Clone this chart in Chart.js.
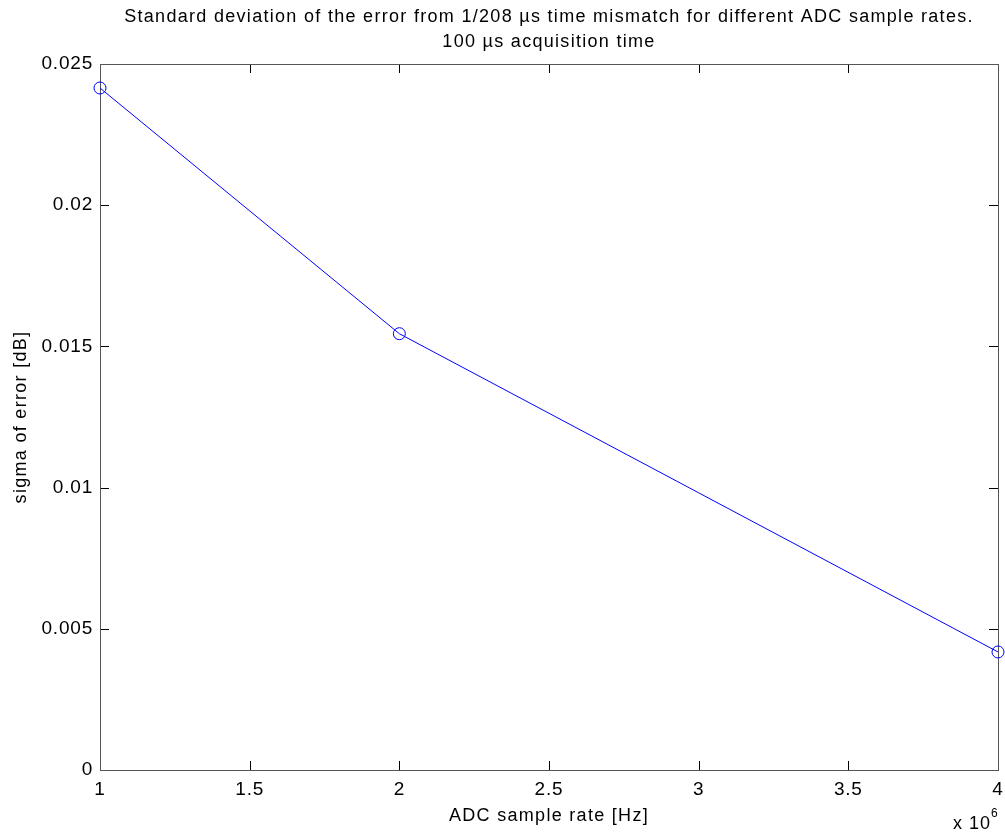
<!DOCTYPE html>
<html>
<head>
<meta charset="utf-8">
<script src="https://cdn.jsdelivr.net/npm/chart.js@4"></script>
<style>
  html, body { margin: 0; padding: 0; background: #fff; }
  canvas { display: block; }
</style>
</head>
<body>
<canvas id="sigmaChart" width="1005" height="834"></canvas>
<script>
// サンプルレートと誤差の標準偏差
const sampleRates = [1e6, 2e6, 4e6];
const sigmaError = [0.02415, 0.01545, 0.00418];

// 目盛り
const xTicks = [1, 1.5, 2, 2.5, 3, 3.5, 4]; // x 10^6
const yTicks = [0, 0.005, 0.01, 0.015, 0.02, 0.025];

const titleLines = [
  'Standard deviation of the error from 1/208 \u00b5s time mismatch for different ADC sample rates.',
  '100 \u00b5s acquisition time'
];
const xLabel = 'ADC sample rate [Hz]';
const yLabel = 'sigma of error [dB]';

const FONT = '"Liberation Sans", Arial, sans-serif';

// 枠線・内向きの目盛り・タイトル類を描くプラグイン
const frameTicks = {
  id: 'frameTicks',
  beforeDraw(chart) {
    // 目盛りラベル用の字間
    chart.ctx.letterSpacing = '0.8px';
  },
  beforeDatasetsDraw(chart) {
    const { ctx, chartArea: a, scales } = chart;
    const tl = 9;
    ctx.save();
    ctx.lineWidth = 1;
    ctx.strokeStyle = '#000';
    ctx.beginPath();
    xTicks.forEach(v => {
      const x = Math.round(scales.x.getPixelForValue(v * 1e6)) + 0.5;
      ctx.moveTo(x, a.bottom); ctx.lineTo(x, a.bottom - tl);
      ctx.moveTo(x, a.top); ctx.lineTo(x, a.top + tl);
    });
    yTicks.forEach(v => {
      const y = Math.round(scales.y.getPixelForValue(v)) + 0.5;
      ctx.moveTo(a.left, y); ctx.lineTo(a.left + tl, y);
      ctx.moveTo(a.right, y); ctx.lineTo(a.right - tl, y);
    });
    ctx.stroke();
    // 外枠
    ctx.strokeStyle = '#555';
    ctx.strokeRect(Math.round(a.left) + 0.5, Math.round(a.top) + 0.5,
      Math.round(a.right - a.left), Math.round(a.bottom - a.top));
    ctx.restore();
  },
  afterDraw(chart) {
    const { ctx, chartArea: a } = chart;
    const cx = (a.left + a.right) / 2;
    const cy = (a.top + a.bottom) / 2;
    ctx.save();
    ctx.fillStyle = '#000';
    ctx.letterSpacing = '1.3px';
    ctx.font = '18px ' + FONT;
    ctx.textAlign = 'center';
    ctx.textBaseline = 'alphabetic';
    ctx.fillText(titleLines[0], cx, 22);
    ctx.fillText(titleLines[1], cx, 47);
    // 軸ラベル
    ctx.fillText(xLabel, cx, 821);
    ctx.save();
    ctx.translate(26, cy);
    ctx.rotate(-Math.PI / 2);
    ctx.fillText(yLabel, 0, 0);
    ctx.restore();
    // 指数表示 x 10^6
    ctx.letterSpacing = '1px';
    ctx.textAlign = 'left';
    ctx.font = '18px ' + FONT;
    ctx.fillText('x 10', 953, 829);
    const w = ctx.measureText('x 10').width;
    ctx.font = '12px ' + FONT;
    ctx.fillText('6', 953 + w, 817);
    ctx.restore();
  }
};

const ctx = document.getElementById('sigmaChart').getContext('2d');
const sigmaChart = new Chart(ctx, {
  type: 'line',
  data: {
    datasets: [{
      data: sampleRates.map((r, i) => ({ x: r, y: sigmaError[i] })),
      borderColor: '#0000ff',
      borderWidth: 1,
      backgroundColor: 'rgba(0,0,0,0)',
      pointStyle: 'circle',
      pointRadius: 6,
      pointBorderWidth: 1,
      pointBorderColor: '#0000ff',
      pointBackgroundColor: 'rgba(0,0,0,0)',
      tension: 0,
      clip: false
    }]
  },
  options: {
    responsive: false,
    animation: false,
    devicePixelRatio: 1,
    layout: { padding: { top: 64, right: 7, left: 0, bottom: 0 } },
    plugins: {
      legend: { display: false },
      tooltip: { enabled: false }
    },
    scales: {
      x: {
        type: 'linear',
        min: sampleRates[0],
        max: sampleRates[sampleRates.length - 1],
        afterBuildTicks: s => { s.ticks = xTicks.map(v => ({ value: v * 1e6 })); },
        afterFit: s => { s.height = 64; s.paddingLeft = 0; s.paddingRight = 0; },
        grid: { display: false, drawTicks: false },
        border: { display: false },
        ticks: {
          padding: 8,
          color: '#000',
          font: { family: FONT, size: 19 },
          maxRotation: 0,
          autoSkip: false,
          callback: v => String(+(v / 1e6).toFixed(1))
        }
      },
      y: {
        min: 0,
        max: 0.025,
        afterBuildTicks: s => { s.ticks = yTicks.map(v => ({ value: v })); },
        afterFit: s => { s.width = 100; s.paddingTop = 0; s.paddingBottom = 0; },
        grid: { display: false, drawTicks: false },
        border: { display: false },
        ticks: {
          padding: 7,
          color: '#000',
          font: { family: FONT, size: 19 },
          autoSkip: false,
          callback: v => String(+v.toFixed(3))
        }
      }
    }
  },
  plugins: [frameTicks]
});
</script>
</body>
</html>
